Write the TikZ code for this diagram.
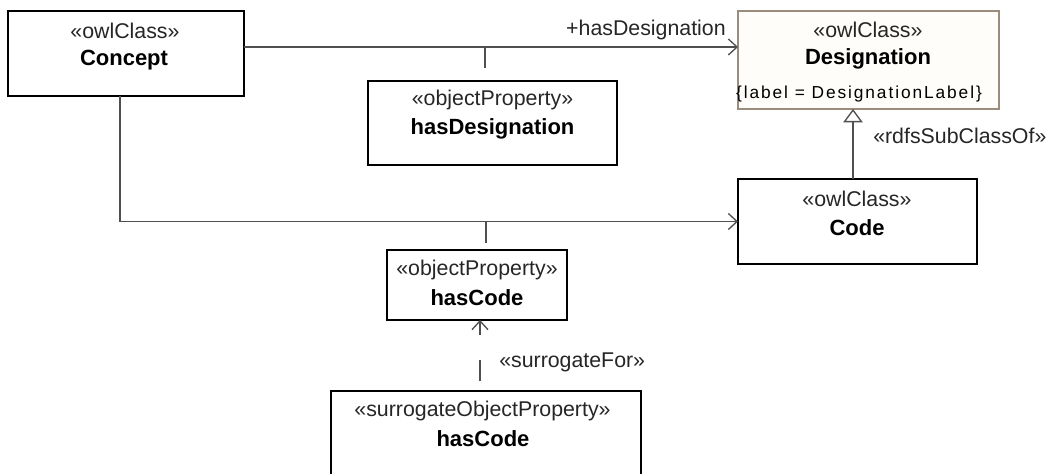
\documentclass[tikz,border=0pt]{standalone}
\usepackage{fontspec}
\setmainfont{Liberation Sans}
\newfontfamily\labelfont[LetterSpace=11]{Liberation Sans}
\usetikzlibrary{arrows.meta}
\definecolor{connc}{HTML}{505050}
\definecolor{tanb}{HTML}{9C8C7C}
\definecolor{cream}{HTML}{FFFDF9}
\definecolor{stereo}{HTML}{262626}
\begin{document}
\begin{tikzpicture}[x=0.75pt,y=-0.75pt,
  umlbox/.style={draw=black, line width=1.5pt, fill=white, inner sep=0pt, outer sep=0pt},
  tanbox/.style={draw=tanb, line width=0.9pt, fill=cream, inner sep=0pt, outer sep=0pt},
  stereotxt/.style={font=\fontsize{16}{19}\selectfont, text=stereo, inner sep=0pt},
  nametxt/.style={font=\fontsize{16.5}{19}\selectfont\bfseries, inner sep=0pt},
  conntxt/.style={font=\fontsize{16}{19}\selectfont, text=stereo, inner sep=0pt},
  connline/.style={draw=connc, line width=1pt},
  openarrow/.style={-{Straight Barb[length=6.5pt,width=12pt,line width=1pt]}},
  genarrow/.style={-{Triangle[open,length=10pt,width=14.5pt,fill=white,line width=1pt]}}
]
\useasboundingbox (0,0) rectangle (1058,474);
\clip (0,0) rectangle (1058,474);
\fill[white] (0,0) rectangle (1058,474);

% boxes
\node[umlbox, minimum width=177pt, minimum height=63.75pt] (concept) at (126,53.5) {};
\node[umlbox, line width=1pt, minimum width=186.75pt, minimum height=63pt] (hasdes) at (492.5,123) {};
\node[tanbox, minimum width=195.75pt, minimum height=73.5pt] (desig) at (868.5,60) {};
\node[umlbox, minimum width=179.25pt, minimum height=63.75pt] (code) at (857.5,221.5) {};
\node[umlbox, minimum width=135pt, minimum height=52.5pt] (hascode) at (477,285) {};
\node[umlbox, minimum width=232.5pt, minimum height=66.75pt] (surr) at (486,435.5) {};

% texts
\node[stereotxt] (conceptS) at (125,31) {«owlClass»};
\node[nametxt] (conceptN) at (124,60) {Concept};
\node[stereotxt] (hasdesS) at (492.5,100) {«objectProperty»};
\node[nametxt] (hasdesN) at (492.5,129) {hasDesignation};
\node[stereotxt] (desigS) at (868,30) {«owlClass»};
\node[nametxt] (desigN) at (868,59) {Designation};
\node[inner sep=0pt, font=\labelfont\fontsize{13}{15}\selectfont] (desigL) at (859,94) {\{label = DesignationLabel\}};
\node[stereotxt] (codeS) at (857,199) {«owlClass»};
\node[nametxt] (codeN) at (857,228) {Code};
\node[stereotxt] (hascodeS) at (477,270) {«objectProperty»};
\node[nametxt] (hascodeN) at (477,298) {hasCode};
\node[stereotxt] (surrS) at (482.5,411) {«surrogateObjectProperty»};
\node[nametxt] (surrN) at (483,439) {hasCode};

% connectors
\draw[connline, openarrow] ([yshift=4.875pt]concept.east) -- ([yshift=9.75pt]desig.west);
\coordinate (t1) at (485,47);
\draw[connline, dash pattern=on 15.75pt off 30pt] (t1) -- (t1 |- hasdes.north);
\draw[connline, openarrow] ([xshift=-4.5pt]concept.south) |- (code.west);
\coordinate (t2) at (486,221);
\draw[connline, dash pattern=on 16.5pt off 30pt] (t2) -- (t2 |- hascode.north);
\draw[connline, genarrow] ([xshift=-3.375pt]code.north) -- ([xshift=-3.375pt]code.north |- desig.south);
\draw[connline, openarrow, dash pattern=on 15.75pt off 18.75pt, dash phase=27pt] ([xshift=-4.5pt]surr.north) -- ([xshift=-4.5pt]surr.north |- hascode.south);

% connector labels
\node[conntxt, anchor=east] (lhd) at (726,30) {+hasDesignation};
\node[conntxt, anchor=west] (lsub) at (873,136) {«rdfsSubClassOf»};
\node[conntxt, anchor=west] (lsur) at (499,362) {«surrogateFor»};
\end{tikzpicture}
\end{document}
